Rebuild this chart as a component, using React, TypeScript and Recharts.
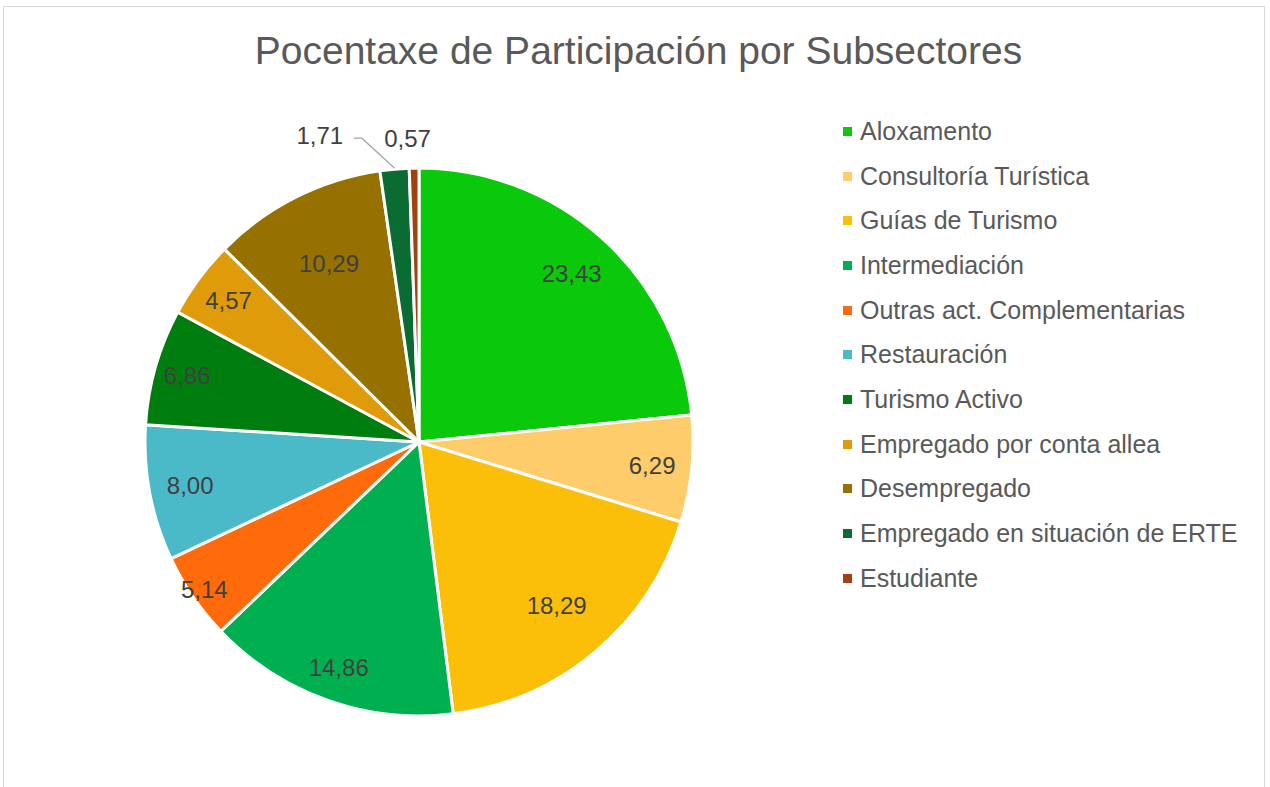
import { PieChart, Pie, Cell, Legend } from "recharts";

const categories = [
  "Aloxamento",
  "Consultoría Turística",
  "Guías de Turismo",
  "Intermediación",
  "Outras act. Complementarias",
  "Restauración",
  "Turismo Activo",
  "Empregado por conta allea",
  "Desempregado",
  "Empregado en situación de ERTE",
  "Estudiante",
];

const shares = [23.43, 6.29, 18.29, 14.86, 5.14, 8.0, 6.86, 4.57, 10.29, 1.71, 0.57];

const colors = [
  "#0ac80a",
  "#ffcc6b",
  "#fbbf0a",
  "#00b050",
  "#ff6b0a",
  "#4bbac8",
  "#007d0f",
  "#e09b0a",
  "#967100",
  "#0a6b33",
  "#a3400f",
];

// how far out each inside label sits, as a share of the radius (Excel "best fit")
const labelRadius = [0.83, 0.855, 0.78, 0.875, 0.95, 0.85, 0.88, 0.865, 0.73];

const data = categories.map((name, i) => ({ name, value: shares[i] }));

const RAD = Math.PI / 180;
const fmt = (v: number) => v.toFixed(2).replace(".", ",");
const LABEL_SIZE = 24;

function SliceLabel(props: any) {
  const { cx, cy, midAngle, outerRadius, value, index } = props;
  const cos = Math.cos(-midAngle * RAD);
  const sin = Math.sin(-midAngle * RAD);
  if (value < 1) {
    const r = outerRadius + 30;
    return (
      <text
        x={cx + r * cos - 6}
        y={cy + r * sin}
        textAnchor="middle"
        dominantBaseline="central"
        fill="#404040"
        fontSize={LABEL_SIZE}
      >
        {fmt(value)}
      </text>
    );
  }
  if (value < 2.5) {
    const ex = cx + (outerRadius + 1) * cos;
    const ey = cy + (outerRadius + 1) * sin;
    const tx = cx + (outerRadius + 30) * cos - 72;
    const ty = cy + (outerRadius + 30) * sin - 4;
    return (
      <g>
        <polyline
          points={`${tx + 34},${ty + 3} ${tx + 42},${ty + 3} ${ex},${ey}`}
          fill="none"
          stroke="#a6a6a6"
          strokeWidth={1.3}
        />
        <text
          x={tx}
          y={ty}
          textAnchor="middle"
          dominantBaseline="central"
          fill="#404040"
          fontSize={LABEL_SIZE}
        >
          {fmt(value)}
        </text>
      </g>
    );
  }
  const r = outerRadius * (labelRadius[index] ?? 0.84);
  return (
    <text
      x={cx + r * cos}
      y={cy + r * sin}
      textAnchor="middle"
      dominantBaseline="central"
      fill="#404040"
      fontSize={LABEL_SIZE}
    >
      {fmt(value)}
    </text>
  );
}

function LegendList(props: any) {
  const items = props.payload || [];
  return (
    <ul style={{ listStyle: "none", margin: 0, padding: 0 }}>
      {items.map((it: any) => (
        <li
          key={it.value}
          style={{
            display: "flex",
            alignItems: "center",
            height: 44.7,
            fontSize: 25,
            color: "#595959",
            whiteSpace: "nowrap",
          }}
        >
          <span
            style={{
              display: "inline-block",
              width: 9,
              height: 9,
              background: it.color,
              marginRight: 8,
            }}
          />
          {it.value}
        </li>
      ))}
    </ul>
  );
}

export default function App() {
  return (
    <div
      style={{
        position: "absolute",
        left: 0,
        top: 0,
        width: 1270,
        height: 787,
        background: "#fff",
        fontFamily: "'Liberation Sans', Arial, sans-serif",
      }}
    >
      <div
        style={{
          position: "absolute",
          left: 3,
          top: 6,
          width: 1262,
          height: 790,
          border: "1.5px solid #d9d9d9",
          boxSizing: "border-box",
        }}
      />
      <div
        style={{
          position: "absolute",
          left: 0,
          top: 29,
          width: 1277,
          textAlign: "center",
          fontSize: 39,
          color: "#595959",
        }}
      >
        Pocentaxe de Participación por Subsectores
      </div>
      <PieChart
        width={1270}
        height={787}
        margin={{ top: 0, right: 0, bottom: 0, left: 0 }}
        style={{ position: "absolute", left: 0, top: 0 }}
      >
        <Pie
          data={data}
          dataKey="value"
          nameKey="name"
          cx={419}
          cy={442}
          outerRadius={274}
          startAngle={90}
          endAngle={-270}
          stroke="#ffffff"
          strokeWidth={3}
          label={SliceLabel}
          labelLine={false}
          isAnimationActive={false}
        >
          {data.map((d, i) => (
            <Cell key={d.name} fill={colors[i]} />
          ))}
        </Pie>
        <Legend
          layout="vertical"
          align="right"
          verticalAlign="top"
          content={LegendList}
          itemSorter={(item: any) => categories.indexOf(item.value)}
          wrapperStyle={{ left: 843, top: 109, width: 420 }}
        />
      </PieChart>
    </div>
  );
}
